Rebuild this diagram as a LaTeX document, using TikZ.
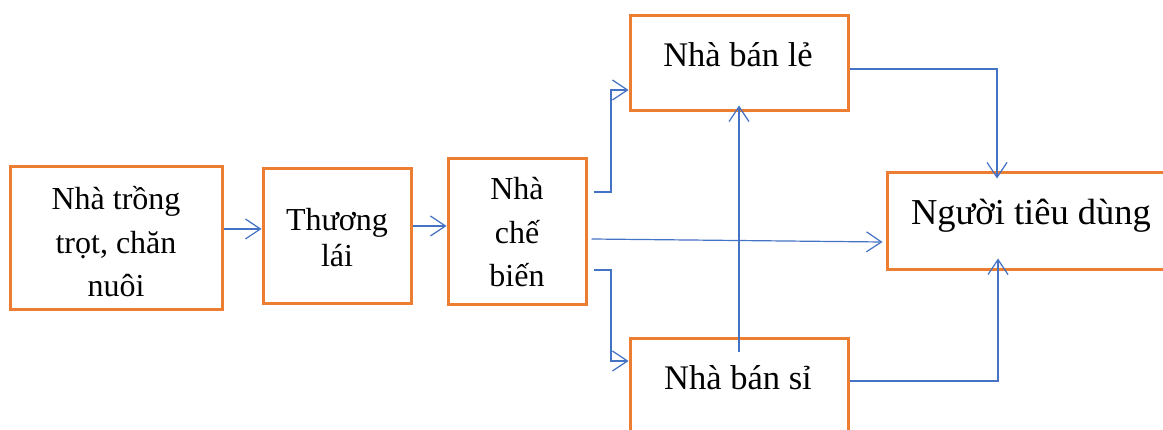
\documentclass[tikz,border=0pt]{standalone}
\usepackage{fontspec}
\setmainfont{Liberation Serif}
\usetikzlibrary{arrows.meta}
\definecolor{boxorange}{HTML}{ED7D31}
\definecolor{linkblue}{HTML}{4472C4}
\begin{document}
\begin{tikzpicture}[x=1pt,y=-1pt,
  box/.style={draw=boxorange,line width=3pt,fill=white,rectangle,inner sep=0pt},
  txt/.style={anchor=base,inner sep=0pt,text=black},
  link/.style={draw=linkblue,line width=1.2pt,-{Straight Barb[length=15pt,width=20pt,line width=1.2pt]}}]
\useasboundingbox (0,0) rectangle (1163,430);
\begin{scope}
\clip (0,0) rectangle (1163,430);
% boxes
\node[box,minimum width=212pt,minimum height=143pt] (b1) at (116,238.5) {};
\node[box,minimum width=148pt,minimum height=135pt] (b2) at (337,236.5) {};
\node[box,minimum width=138pt,minimum height=146pt] (b3) at (517,232) {};
\node[box,minimum width=218pt,minimum height=95pt] (b4) at (739,63.5) {};
\node[box,minimum width=218pt,minimum height=95pt] (b5) at (739,386.5) {};
\node[box,minimum width=288pt,minimum height=97pt] (b6) at (1031,221.5) {};
\end{scope}
% texts
\begin{scope}[every node/.style={txt,font=\fontsize{32}{36}\selectfont}]
\node (t1a) at (116,210) {Nhà trồng};
\node (t1b) at (116,253.5) {trọt, chăn};
\node (t1c) at (116,297) {nuôi};
\node (t2a) at (337,231) {Thương};
\node (t2b) at (337,267) {lái};
\node (t3a) at (517,200) {Nhà};
\node (t3b) at (517,243.5) {chế};
\node (t3c) at (517,287) {biến};
\end{scope}
\node[txt,font=\fontsize{34.5}{40}\selectfont] (t4) at (738,67) {Nhà bán lẻ};
\node[txt,font=\fontsize{34.5}{40}\selectfont] (t5) at (738,390) {Nhà bán sỉ};
\node[txt,font=\fontsize{36.5}{40}\selectfont] (t6) at (1031,225) {Người tiêu dùng};
% connectors
\coordinate (p34) at (611,90);
\coordinate (p35) at (611,361);
\coordinate (p46) at (997,69);
\coordinate (p56) at (998,381);
\draw[link] (b1.east |- 0,229) -- (b2.west |- 0,229);
\draw[link] (b2.east |- 0,226) -- (b3.west |- 0,226);
\draw[link] ([xshift=6pt]b3.east |- 0,192) -| (p34) -- (b4.west |- p34);
\draw[link] ([xshift=6pt]b3.east |- 0,270) -| (p35) -- (b5.west |- p35);
\draw[link] ([xshift=4pt]b3.east |- 0,239) -- ([xshift=-3pt]b6.west |- 0,242);
\draw[link] (739,352) -- ([yshift=7pt]b4.south);
\draw[link] (b4.east |- p46) -- (p46) -- ([yshift=-7pt]b6.north -| p46);
\draw[link] (b5.east |- p56) -- (p56) -- ([yshift=13pt]b6.south -| p56);
\end{tikzpicture}
\end{document}
